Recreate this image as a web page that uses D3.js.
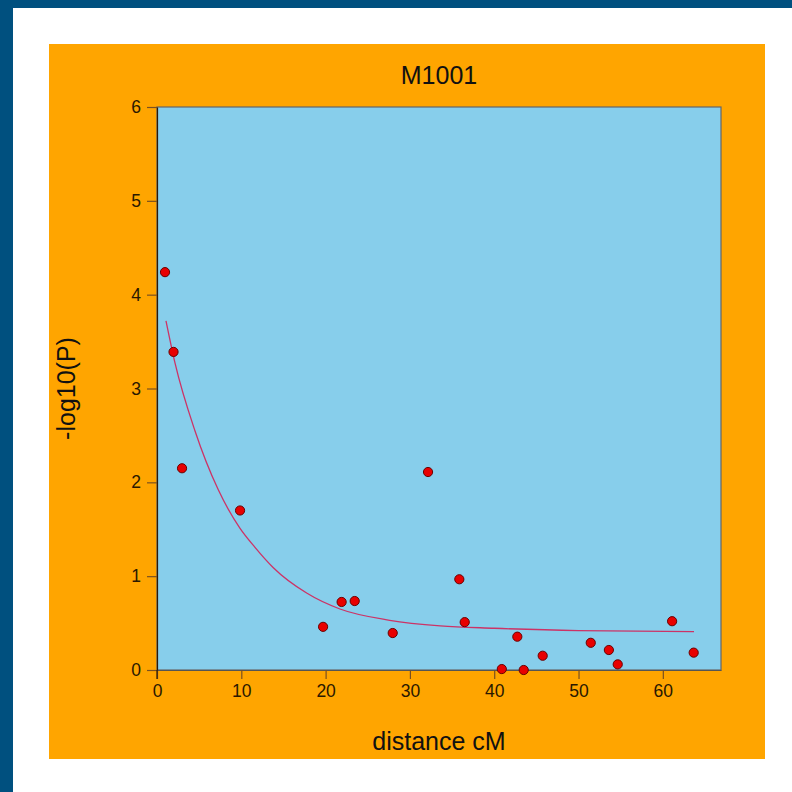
<!DOCTYPE html>
<html>
<head>
<meta charset="utf-8">
<script src="https://cdn.jsdelivr.net/npm/d3@7"></script>
<style>
  html, body { margin: 0; padding: 0; background: #00507f; }
  svg { display: block; }
  text { font-family: "Liberation Sans", Arial, sans-serif; }
</style>
</head>
<body>
<div id="chart"></div>
<script>
// observed markers: distance (cM) and -log10(P)
var distCM = [0.95, 1.96, 2.97, 9.85, 19.7, 21.9, 23.45, 27.96, 32.15, 35.86, 36.5, 40.9, 42.74, 43.5, 45.75, 51.45, 53.6, 54.65, 61.1, 63.66];
var logP   = [4.24, 3.39, 2.15, 1.70, 0.46, 0.725, 0.735, 0.394, 2.11, 0.967, 0.51, 0.01, 0.355, 0.0, 0.152, 0.29, 0.213, 0.06, 0.52, 0.185];

// fitted curve
var fitX = [1.07, 2.14, 4.5, 7.27, 9.85, 11.6, 13.8, 17.75, 21.7, 27.6, 33.6, 40, 50, 63.7];
var fitY = [3.72, 3.27, 2.55, 1.92, 1.51, 1.31, 1.09, 0.82, 0.65, 0.53, 0.47, 0.445, 0.42, 0.41];

var xTicks = [0, 10, 20, 30, 40, 50, 60];
var yTicks = [0, 1, 2, 3, 4, 5, 6];

var W = 792, H = 792;
var svg = d3.select("#chart").append("svg").attr("width", W).attr("height", H);

// outer frame: dark strip top/left, white page, orange panel
svg.append("rect").attr("x", 0).attr("y", 0).attr("width", W).attr("height", H).attr("fill", "#00507f");
svg.append("rect").attr("x", 13).attr("y", 8).attr("width", W - 13).attr("height", H - 8).attr("fill", "#ffffff");
svg.append("rect").attr("x", 49).attr("y", 44).attr("width", 716).attr("height", 715).attr("fill", "#ffa500");

var x = d3.scaleLinear().domain([0, 66.9]).range([157, 721]);
var y = d3.scaleLinear().domain([0, 6]).range([670, 107]);

// plot area
svg.append("rect")
  .attr("x", x(0)).attr("y", y(6))
  .attr("width", x(66.9) - x(0)).attr("height", y(0) - y(6))
  .attr("fill", "#87ceeb")
  .attr("stroke", "#666666").attr("stroke-width", 1.2);

// axes
var gx = svg.append("g").attr("transform", "translate(0," + y(0) + ")")
  .call(d3.axisBottom(x).tickValues(xTicks).tickSize(9).tickSizeOuter(0).tickPadding(6).tickFormat(d3.format("d")));
var gy = svg.append("g").attr("transform", "translate(" + x(0) + ",0)")
  .call(d3.axisLeft(y).tickValues(yTicks).tickSize(10).tickSizeOuter(0).tickPadding(6).tickFormat(d3.format("d")));

gx.select(".domain").attr("stroke", "#555555").attr("stroke-width", 1.2);
gy.select(".domain").attr("stroke", "#2a1a08").attr("stroke-width", 1.2);
[gx, gy].forEach(function(g) {
  g.selectAll(".tick line").attr("stroke", "#7a5020").attr("stroke-width", 1.2);
  g.selectAll(".tick text").attr("fill", "#2a1800").style("font-size", "17.5px")
    .style("font-family", "'Liberation Sans', Arial, sans-serif");
});
// left axis line runs down to the x tick length
svg.append("line").attr("x1", x(0)).attr("x2", x(0)).attr("y1", y(0)).attr("y2", y(0) + 9)
  .attr("stroke", "#2a1a08").attr("stroke-width", 1.2);

// fitted curve
var fitData = fitX.map(function(d, i) { return [d, fitY[i]]; });
svg.append("path").datum(fitData)
  .attr("fill", "none").attr("stroke", "#cc3366").attr("stroke-width", 1.3)
  .attr("d", d3.line().x(function(d) { return x(d[0]); }).y(function(d) { return y(d[1]); }).curve(d3.curveMonotoneX));

// points
var pts = distCM.map(function(d, i) { return [d, logP[i]]; });
svg.append("g").selectAll("circle").data(pts).enter().append("circle")
  .attr("cx", function(d) { return x(d[0]); })
  .attr("cy", function(d) { return y(d[1]); })
  .attr("r", 4.6)
  .attr("fill", "#e80000").attr("stroke", "#6a0000").attr("stroke-width", 1);

// titles
svg.append("text").attr("x", (x(0) + x(66.9)) / 2).attr("y", 84)
  .attr("text-anchor", "middle").style("font-size", "25px").attr("fill", "#111").text("M1001");
svg.append("text").attr("x", (x(0) + x(66.9)) / 2).attr("y", 750)
  .attr("text-anchor", "middle").style("font-size", "25px").attr("fill", "#111").text("distance cM");
svg.append("text").attr("transform", "translate(75," + ((y(0) + y(6)) / 2) + ") rotate(-90)")
  .attr("text-anchor", "middle").style("font-size", "25px").attr("fill", "#111").text("-log10(P)");
</script>
</body>
</html>
